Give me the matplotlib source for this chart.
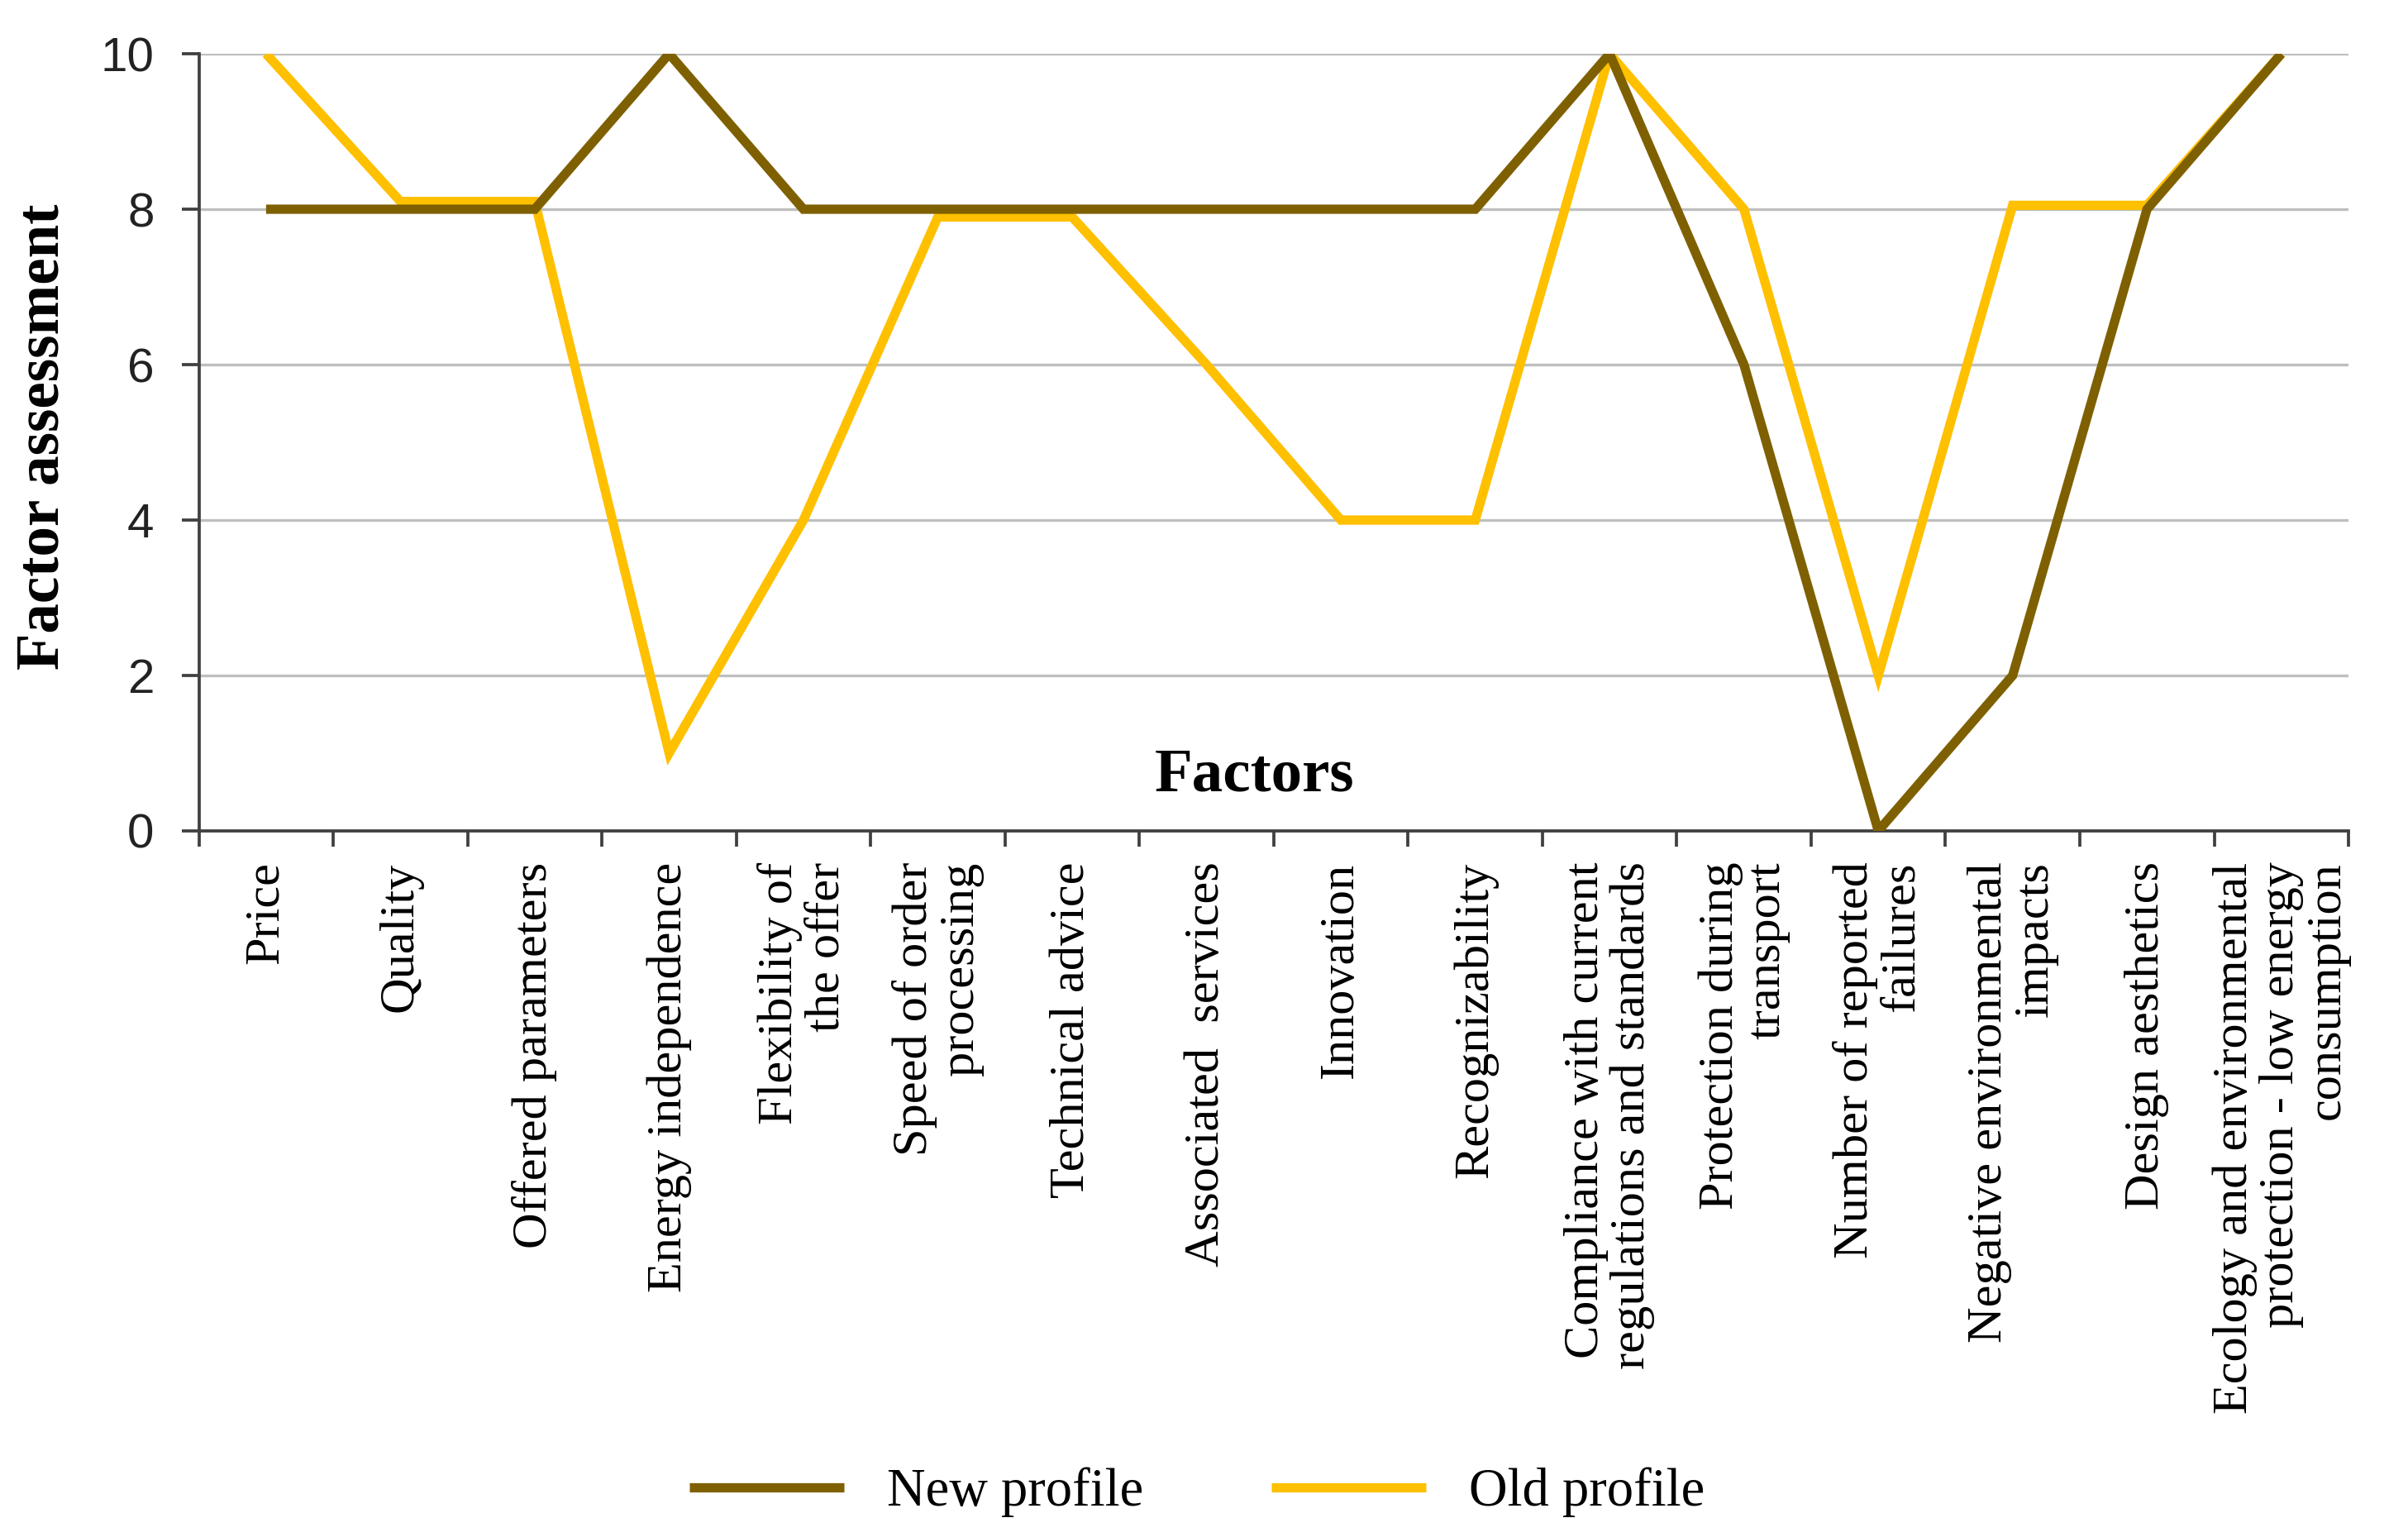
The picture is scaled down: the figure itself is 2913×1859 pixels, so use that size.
import matplotlib
matplotlib.use("Agg")
import matplotlib.pyplot as plt
import numpy as np

factors = [
    "Price",
    "Quality",
    "Offered parameters",
    "Energy independence",
    "Flexibility of\nthe offer",
    "Speed of order\nprocessing",
    "Technical advice",
    "Associated  services",
    "Innovation",
    "Recognizability",
    "Compliance with current\nregulations and standards",
    "Protection during\ntransport",
    "Number of reported\nfailures",
    "Negative environmental\nimpacts",
    "Design aesthetics",
    "Ecology and environmental\nprotection - low energy\nconsumption",
]
new_profile = [8, 8, 8, 10, 8, 8, 8, 8, 8, 8, 10, 6, 0, 2, 8, 10]
old_profile = [10, 8.1, 8.1, 1, 4, 7.9, 7.9, 6, 4, 4, 10, 8, 2, 8.05, 8.05, 10]
y_ticks = [0, 2, 4, 6, 8, 10]

serif = ["Liberation Serif", "DejaVu Serif"]
narrow = ["Liberation Sans Narrow", "Liberation Sans", "DejaVu Sans"]

fig = plt.figure(figsize=(2913 / 300, 1859 / 300), dpi=300)
ax = fig.add_axes([0.0826, 0.4594, 0.8927, 0.5056])

x = np.arange(1, len(factors) + 1)
ax.plot(x, old_profile, color="#FFC000", lw=2.7, solid_joinstyle="miter",
        solid_capstyle="butt", label="Old profile", zorder=3)
ax.plot(x, new_profile, color="#7F6000", lw=2.7, solid_joinstyle="miter",
        solid_capstyle="butt", label="New profile", zorder=4)

ax.set_xlim(0.5, len(factors) + 0.5)
ax.set_ylim(0, 10)
ax.set_yticks(y_ticks)
ax.grid(axis="y", color="#BFBFBF", lw=0.8, zorder=0)
ax.set_axisbelow(True)

# tick marks at category boundaries, labels at category centres
ax.set_xticks(np.arange(0.5, len(factors) + 1, 1))
ax.set_xticklabels([])
ax.set_xticks(x, minor=True)
ax.set_xticklabels(factors, minor=True, rotation=90, fontsize=14.5, family=serif)
for lab in ax.get_xticklabels(minor=True):
    lab.set_multialignment("right")
    lab.set_linespacing(1.05)
ax.tick_params(axis="x", which="major", length=4.5, width=0.9, color="#404040", direction="out")
ax.tick_params(axis="x", which="minor", length=0, pad=9)
ax.tick_params(axis="y", length=5, width=0.9, color="#404040", pad=8)
for lab in ax.get_yticklabels():
    lab.set_family(narrow)
    lab.set_fontsize(14)
    lab.set_color("#222222")

for s in ["top", "right"]:
    ax.spines[s].set_visible(False)
for s in ["left", "bottom"]:
    ax.spines[s].set_color("#404040")
    ax.spines[s].set_linewidth(0.9)

fig.text(0.018, 0.716, "Factor assessment", rotation=90, ha="center", va="center",
         fontsize=17.5, fontweight="bold", family=serif)
ax.text(0.491, 0.071, "Factors", transform=ax.transAxes, ha="center", va="center",
        fontsize=18, fontweight="bold", family=serif)

handles, labels = ax.get_legend_handles_labels()
fig.legend(handles[::-1], labels[::-1], loc="center", bbox_to_anchor=(0.497, 0.029), ncol=2,
           frameon=False, prop={"family": serif, "size": 15.5}, handlelength=2.9,
           handletextpad=0.8, columnspacing=2.4)

fig.savefig("out.png", dpi=300)
